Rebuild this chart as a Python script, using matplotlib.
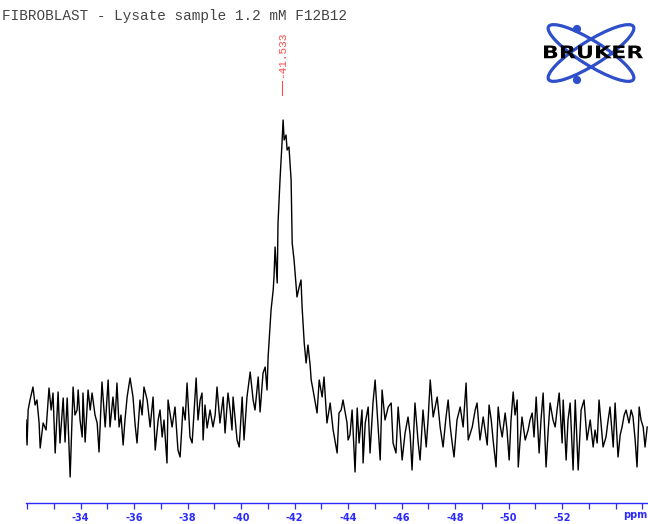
import matplotlib
matplotlib.use("Agg")
import matplotlib.pyplot as plt
from matplotlib.patches import Ellipse, Circle, PathPatch
from matplotlib.textpath import TextPath
from matplotlib.font_manager import FontProperties
from matplotlib.transforms import Affine2D
from matplotlib.ticker import MultipleLocator, FixedLocator

# 19F spectrum, chemical shift (ppm) and intensity (arbitrary units)
ppm = [
    -31.96, -32.00, -32.04, -32.11, -32.22, -32.30, -32.37, -32.45, -32.49, -32.60,
    -32.71, -32.82, -32.90, -32.97, -33.05, -33.16, -33.23, -33.35, -33.42, -33.50,
    -33.61, -33.72, -33.79, -33.87, -33.91, -33.98, -34.06, -34.09, -34.17, -34.28,
    -34.36, -34.43, -34.54, -34.62, -34.69, -34.80, -34.92, -35.03, -35.10, -35.21,
    -35.29, -35.36, -35.44, -35.51, -35.59, -35.66, -35.74, -35.85, -35.96, -36.04,
    -36.11, -36.22, -36.30, -36.37, -36.49, -36.60, -36.71, -36.79, -36.90, -36.97,
    -37.05, -37.12, -37.23, -37.27, -37.42, -37.53, -37.64, -37.72, -37.83, -37.91,
    -37.98, -38.09, -38.17, -38.32, -38.39, -38.47, -38.54, -38.58, -38.65, -38.73,
    -38.84, -38.95, -39.03, -39.10, -39.21, -39.33, -39.40, -39.51, -39.59, -39.66,
    -39.70, -39.78, -39.85, -39.93, -40.04, -40.11, -40.22, -40.34, -40.45, -40.52,
    -40.64, -40.71, -40.82, -40.90, -40.97, -41.01, -41.12, -41.20, -41.23, -41.27,
    -41.35, -41.38, -41.46, -41.53, -41.57, -41.61, -41.68, -41.72, -41.79, -41.87,
    -41.91, -41.98, -42.06, -42.09, -42.17, -42.24, -42.28, -42.36, -42.43, -42.50,
    -42.58, -42.62, -42.69, -42.84, -42.92, -43.03, -43.10, -43.21, -43.33, -43.44,
    -43.59, -43.66, -43.74, -43.81, -43.96, -44.00, -44.07, -44.15, -44.26, -44.34,
    -44.41, -44.52, -44.56, -44.64, -44.75, -44.82, -44.93, -45.01, -45.12, -45.20,
    -45.27, -45.38, -45.50, -45.61, -45.68, -45.79, -45.87, -45.94, -46.02, -46.13,
    -46.24, -46.32, -46.39, -46.50, -46.62, -46.69, -46.80, -46.92, -46.99, -47.07,
    -47.18, -47.33, -47.44, -47.55, -47.66, -47.74, -47.81, -47.89, -47.96, -48.07,
    -48.19, -48.30, -48.41, -48.49, -48.64, -48.75, -48.82, -48.93, -49.05, -49.20,
    -49.27, -49.35, -49.42, -49.53, -49.61, -49.68, -49.76, -49.87, -49.94, -50.02,
    -50.09, -50.17, -50.24, -50.32, -50.36, -50.43, -50.50, -50.62, -50.73, -50.80,
    -50.88, -50.95, -51.03, -51.14, -51.21, -51.29, -51.40, -51.48, -51.55, -51.66,
    -51.74, -51.81, -51.89, -52.00, -52.04, -52.15, -52.22, -52.30, -52.41, -52.49,
    -52.60, -52.71, -52.82, -52.93, -53.05, -53.16, -53.23, -53.31, -53.38, -53.46,
    -53.53, -53.64, -53.72, -53.79, -53.91, -53.98, -54.09, -54.17, -54.24, -54.32,
    -54.39, -54.50, -54.58, -54.65, -54.73, -54.80, -54.88, -54.95, -55.03, -55.10,
    -55.18,
]
intensity = [
    0, -25, 10, 20, 33, 15, 20, -3, -28, -3,
    -10, 32, 10, 27, -33, 28, -23, 22, -22, 22,
    -57, 33, 5, 10, 30, 0, -17, 27, -22, 30,
    10, 27, 5, -3, -32, 38, -7, 40, -7, 23,
    0, 37, -7, 5, -25, 0, 23, 42, 23, -5,
    -23, 20, 5, 33, 20, -7, 23, -30, 0, 10,
    -17, 0, -43, 20, -7, 13, -30, -37, 13, 0,
    37, -17, -23, 42, 0, 20, 27, -20, 15, -8,
    10, -7, 5, 33, -3, 23, -13, 27, 10, -10,
    23, 0, -20, -27, 23, -20, 23, 48, 20, 10,
    43, 8, 47, 53, 30, 63, 110, 130, 143, 173,
    137, 197, 243, 277, 300, 280, 285, 270, 273, 240,
    177, 160, 133, 123, 133, 140, 113, 77, 57, 75,
    55, 40, 30, 7, 40, 23, 43, -3, 17, -10,
    -33, 7, 10, 20, -3, -20, -15, 10, -52, 12,
    -23, 10, -43, -3, 13, -33, 17, 40, -7, -40,
    30, 0, 13, 17, -23, -33, 13, -10, -40, -13,
    3, -15, -50, 17, -23, -40, 10, -27, 0, 40,
    3, 23, -7, -27, 3, 20, -5, -23, -37, 0,
    13, -7, 37, -20, -7, 10, 17, -20, 3, -25,
    15, 0, -20, -47, 13, -5, -17, 7, -10, -40,
    0, 28, 5, 20, -47, -20, 3, -20, -10, 0,
    7, -17, 23, -33, 0, 27, -47, -10, 17, 0,
    -7, 10, 27, -23, 20, -40, 0, 17, -50, 20,
    -50, 10, 20, -20, 0, -27, -10, -23, 20, -5,
    -27, -17, 0, 13, -27, 17, -37, -15, -7, 5,
    10, -3, 10, 3, -20, -47, 13, 0, -7, -27,
    -7,
]

peak_ppm = -41.533
xtick_labels = ["-34", "-36", "-38", "-40", "-42", "-44", "-46", "-48", "-50", "-52"]
unit_label = "ppm"
title = "FIBROBLAST - Lysate sample 1.2 mM F12B12"

axis_blue = "#2a2aff"
pick_red = "#ff4a4a"

fig = plt.figure(figsize=(6.48, 5.24), dpi=100)
ax = fig.add_axes([26 / 648, 1 - 503 / 524, 622 / 648, 473 / 524])
ax.plot(ppm, intensity, color="black", lw=1.0)

ax.set_xlim(-31.96, -55.21)
ax.set_ylim(-83, 390)

for side in ("top", "right", "left"):
    ax.spines[side].set_visible(False)
ax.spines["bottom"].set_color(axis_blue)
ax.spines["bottom"].set_linewidth(1.0)
ax.set_yticks([])

ax.xaxis.set_major_locator(FixedLocator([float(t) for t in xtick_labels]))
ax.set_xticklabels(xtick_labels)
ax.xaxis.set_minor_locator(MultipleLocator(1))
ax.tick_params(axis="x", which="both", direction="out", length=4, width=0.9,
               color=axis_blue, labelcolor=axis_blue, labelsize=7, pad=3.5)
for lbl in ax.get_xticklabels():
    lbl.set_fontweight("bold")

# unit label sits where the -54 label would go, level with the tick labels
ax.annotate(unit_label, xy=(-54.72, 0), xycoords=("data", "axes fraction"),
            xytext=(0, -12), textcoords="offset pixels", color=axis_blue,
            fontsize=7, fontweight="bold", ha="center", va="center",
            annotation_clip=False)

# peak pick marker
ax.plot([peak_ppm, peak_ppm], [325, 339], color=pick_red, lw=0.8)
ax.text(peak_ppm, 342, f"{peak_ppm:.3f}", color=pick_red, fontsize=8,
        family="Liberation Mono", rotation=90, ha="center", va="bottom")

fig.text(2 / 648, 1 - 16 / 524, title, family="Liberation Mono", fontsize=10.4,
         color="#444444", ha="left", va="center")

# company logo
lax = fig.add_axes([540 / 648, 1 - 92 / 524, 108 / 648, 72 / 524])
lax.set_xlim(0, 108)
lax.set_ylim(72, 0)
lax.axis("off")
logo_blue = "#2e4fc9"
for ang in (32, -32):
    lax.add_patch(Ellipse((51, 33), 100, 24, angle=ang, fill=False,
                          ec=logo_blue, lw=2.3))
lax.add_patch(Circle((37, 9), 3.4, color=logo_blue))
lax.add_patch(Circle((37, 60), 3.4, color=logo_blue))

# wordmark stretched to fill its box
word = TextPath((0, 0), "BRUKER", size=1,
                prop=FontProperties(family="DejaVu Sans", weight="bold"))
ext = word.get_extents()
box_x0, box_x1, box_top, box_bot = 4, 103, 25.5, 38.5
sx = (box_x1 - box_x0) / ext.width
sy = (box_bot - box_top) / ext.height
tr = Affine2D().translate(-ext.x0, -ext.y0).scale(sx, -sy).translate(box_x0, box_bot)
lax.add_patch(PathPatch(tr.transform_path(word), fc="black", ec="none"))

fig.savefig("out.png", dpi=100)
